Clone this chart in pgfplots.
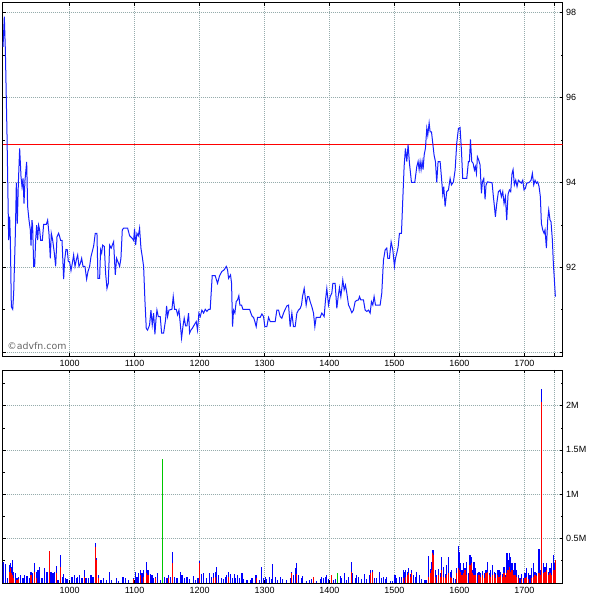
\documentclass[border=0pt]{standalone}
\usepackage{pgfplots}
\pgfplotsset{compat=1.18}
\usepackage{fontspec}
\setmainfont{Liberation Sans}
\newfontfamily\wmfont{DejaVu Sans}
\definecolor{gridc}{RGB}{150,172,172}
\definecolor{linec}{RGB}{20,30,255}
\definecolor{volblue}{RGB}{0,0,255}
\definecolor{volred}{RGB}{255,0,0}
\definecolor{volgreen}{RGB}{0,200,0}
\begin{document}
\begin{tikzpicture}
\useasboundingbox (0pt,0pt) rectangle (600pt,600pt);
\pgfplotsset{
  panel/.style={
    scale only axis, width=560pt, anchor=south west,
    xmin=897, xmax=1759,
    xtick={1000,1100,...,1700},
    extra x ticks={1746}, extra x tick labels={},
    extra x tick style={grid=major},
    grid=major,
    major grid style={color=gridc, dash pattern=on 1pt off 1pt, line width=0.6pt},
    yticklabel pos=right, ytick pos=both, xtick pos=both,
    tick style={black, line width=0.5pt},
    major tick length=3pt, minor tick length=2pt,
    axis line style={black, line width=0.8pt},
    ticklabel style={font=\fontsize{9}{10}\selectfont},
    /pgf/number format/assume math mode=true,
    /pgf/number format/1000 sep={},
  }
}
% ---------------- price panel ----------------
\begin{axis}[panel, at={(2.7pt,244pt)}, height=353.3pt,
  ymin=89.91, ymax=98.23,
  ytick={90,92,94,96,98}, yticklabels={,92,94,96,98},
  minor ytick={91,93,95,97},
  xticklabel style={yshift=-0.5pt}]
\addplot[volred, line width=0.9pt] coordinates {(897,94.89) (1759,94.89)};
\addplot[linec, line width=1pt] coordinates {
(897.5,97.19)(899.5,97.90)(901.1,97.11)(903.6,95.15)(905.2,93.58)(906.2,92.64)(907.7,93.19)(908.8,92.64)(910.3,91.07)(912.4,91.01)(913.9,91.39)(916.5,92.80)(918.0,93.99)(919.5,93.03)(921.1,93.98)(923.1,94.80)(925.2,94.13)(926.7,93.90)(928.3,94.09)(929.8,93.50)(931.3,94.05)(933.9,94.48)(935.4,93.43)(937.5,93.11)(939.5,92.88)(940.6,92.51)(942.1,93.11)(943.1,92.96)(944.7,92.02)(946.2,92.02)(947.7,92.64)(949.3,92.99)(950.8,92.64)(952.3,92.99)(953.9,92.88)(955.4,92.63)(958.0,92.63)(960.0,93.01)(964.1,93.01)(966.2,93.11)(968.2,92.80)(970.3,92.21)(971.8,92.80)(973.9,92.64)(976.5,92.33)(978.5,92.02)(980.6,92.72)(983.1,92.80)(984.7,92.72)(986.2,92.63)(988.3,92.63)(990.8,91.72)(992.4,92.17)(994.4,92.42)(996.5,92.41)(998.0,92.13)(1000.0,92.13)(1002.1,91.92)(1004.1,92.09)(1006.2,92.29)(1008.3,92.02)(1010.3,92.17)(1012.4,92.29)(1014.4,92.02)(1016.5,92.09)(1018.5,92.21)(1020.6,92.02)(1023.6,92.02)(1026.2,91.72)(1028.3,91.90)(1030.8,92.02)(1032.9,92.25)(1034.9,92.37)(1037.0,92.50)(1039.5,92.80)(1042.1,92.80)(1043.6,91.74)(1046.2,91.74)(1047.7,92.41)(1049.3,92.33)(1050.8,92.52)(1053.4,92.49)(1055.4,91.86)(1057.5,91.50)(1059.5,91.62)(1061.6,92.52)(1064.1,92.45)(1065.7,92.52)(1067.7,92.60)(1070.3,91.82)(1072.3,92.21)(1075.4,92.09)(1077.0,92.02)(1079.0,92.21)(1081.1,92.88)(1083.1,92.92)(1089.3,92.92)(1092.4,92.74)(1096.5,92.68)(1098.5,92.63)(1100.0,92.91)(1101.6,92.52)(1103.6,92.80)(1105.7,92.74)(1107.7,92.92)(1109.8,92.45)(1111.8,92.25)(1113.9,92.02)(1115.9,91.23)(1118.0,90.56)(1120.0,90.52)(1123.1,90.64)(1125.2,90.99)(1127.2,90.64)(1129.3,90.92)(1131.3,90.42)(1132.9,90.76)(1134.4,90.99)(1136.5,90.84)(1139.5,90.84)(1141.6,90.45)(1144.7,90.45)(1147.7,90.76)(1149.3,91.09)(1150.8,90.84)(1152.9,90.99)(1157.5,91.01)(1159.5,91.31)(1161.6,91.01)(1164.1,91.01)(1166.2,90.88)(1168.3,90.99)(1170.3,90.68)(1172.3,90.33)(1174.4,90.60)(1176.4,90.80)(1178.5,90.62)(1180.6,90.62)(1183.1,90.92)(1184.7,90.45)(1186.7,90.52)(1188.8,90.56)(1191.8,90.64)(1194.9,90.72)(1196.9,90.52)(1199.0,90.92)(1201.1,90.84)
(1203.6,90.99)(1206.2,90.92)(1208.8,91.01)(1211.3,90.96)(1213.9,91.01)(1216.4,91.01)(1219.5,91.80)(1224.1,91.80)(1227.7,91.62)(1230.8,91.80)(1234.4,91.90)(1238.0,91.94)(1241.1,92.02)(1243.1,91.94)(1244.7,91.74)(1246.2,91.78)(1247.7,91.82)(1249.3,91.62)(1250.8,90.60)(1252.3,90.99)(1254.4,90.92)(1256.4,91.19)(1258.5,91.23)(1260.5,91.33)(1262.1,91.11)(1264.6,91.11)(1266.7,91.01)(1277.0,91.01)(1279.0,90.92)(1281.1,90.84)(1283.1,90.82)(1285.2,90.72)(1287.2,90.60)(1289.3,90.82)(1293.4,90.82)(1296.0,90.90)(1298.5,90.84)(1300.5,90.60)(1303.6,90.60)(1306.2,90.82)(1308.8,90.72)(1316.4,90.72)(1319.0,90.99)(1321.6,90.99)(1324.1,90.84)(1326.7,90.80)(1329.3,90.92)(1331.8,91.01)(1334.4,91.09)(1337.0,91.11)(1339.5,90.60)(1342.1,90.92)(1344.6,90.60)(1347.2,90.60)(1349.8,90.92)(1352.3,90.99)(1354.9,91.03)(1356.9,91.11)(1358.5,91.31)(1361.1,91.50)(1364.1,91.11)(1366.2,91.31)(1368.2,91.31)(1370.3,91.19)(1372.9,91.07)(1375.4,90.92)(1377.5,90.60)(1379.5,90.82)(1385.7,90.82)(1388.2,90.92)(1391.8,90.84)(1393.9,91.23)(1395.9,91.50)(1398.5,91.11)(1401.1,91.31)(1403.6,91.39)(1405.2,91.62)(1408.7,91.62)(1411.3,91.03)(1413.4,91.31)(1415.4,91.52)(1417.5,91.31)(1419.0,91.50)(1420.5,91.70)(1422.6,91.47)(1424.6,91.58)(1426.7,91.39)(1429.3,91.11)(1431.8,91.03)(1434.4,90.93)(1436.9,90.99)(1439.5,91.19)(1442.1,91.22)(1444.6,91.23)(1446.2,91.31)(1448.2,91.23)(1452.3,91.23)(1454.9,90.99)(1457.5,90.96)(1460.0,90.99)(1462.6,90.92)(1464.6,91.19)(1466.7,91.11)(1468.7,91.31)(1470.8,91.11)(1478.0,91.11)(1480.5,91.39)(1483.1,92.17)(1485.7,92.41)(1488.2,92.45)(1489.8,92.21)(1492.3,92.21)(1494.9,92.60)(1497.5,92.41)(1500.0,92.02)(1501.6,92.21)(1503.6,92.33)
(1505.7,92.48)(1507.7,92.80)(1510.8,92.80)(1512.8,93.58)(1514.9,94.37)(1516.9,94.80)(1519.0,94.49)(1521.0,94.89)(1523.1,94.45)(1526.2,94.00)(1531.3,94.00)(1534.4,94.37)(1536.4,94.49)(1538.0,94.30)(1539.5,94.49)(1541.0,94.30)(1542.6,94.49)(1544.1,94.30)(1545.7,94.64)(1547.7,94.80)(1549.8,95.27)(1551.3,95.11)(1553.4,95.40)(1554.9,95.19)(1557.0,95.19)(1559.0,94.92)(1561.0,94.64)(1563.1,94.49)(1565.1,94.00)(1567.2,94.49)(1570.3,94.49)(1572.3,94.13)(1574.4,93.72)(1575.9,93.90)(1578.0,93.43)(1580.5,93.78)(1583.1,93.82)(1585.7,94.09)(1587.7,93.94)(1590.8,94.01)(1593.4,94.29)(1595.9,94.92)(1598.5,95.27)(1601.0,95.29)(1603.1,94.76)(1605.1,94.09)(1611.3,94.09)(1613.9,94.49)(1615.4,94.49)(1617.0,95.01)(1619.0,94.49)(1621.1,94.45)(1623.1,94.29)(1624.6,94.37)(1626.2,94.21)(1627.7,94.60)(1629.8,94.52)(1631.8,94.41)(1633.9,93.74)(1635.4,94.01)(1637.5,94.09)(1639.5,93.60)(1641.0,93.94)(1643.1,94.01)(1650.3,93.99)(1652.3,93.66)(1653.9,93.43)(1655.4,93.19)(1657.5,93.50)(1660.0,93.78)(1662.6,93.82)(1664.6,93.66)(1666.7,93.78)(1668.7,93.50)(1670.8,93.66)(1672.8,93.11)(1674.9,93.72)(1677.0,93.82)(1679.0,93.78)(1681.0,94.21)(1682.6,94.30)(1684.6,93.94)(1686.7,94.05)(1688.7,93.90)(1690.8,94.05)(1693.3,94.01)(1695.4,93.98)(1697.5,94.05)(1699.5,93.82)(1701.6,93.86)(1703.6,93.98)(1706.2,93.99)(1708.2,94.01)(1710.3,94.05)(1712.3,94.21)(1714.4,93.94)(1716.4,94.05)(1718.5,93.98)(1720.5,94.01)(1722.6,93.90)(1724.6,93.66)(1726.2,93.03)(1728.2,92.88)(1730.3,92.80)(1731.8,92.88)(1733.9,92.45)(1735.9,93.11)(1737.5,93.35)(1739.5,93.11)(1741.0,93.07)(1743.1,92.64)(1744.6,92.09)(1746.2,91.70)(1747.7,91.31)
};
\node[anchor=base west, font=\wmfont\fontsize{9.4}{10}\selectfont, text=black!60, inner sep=0pt] at (rel axis cs:0.008,0.017) {©advfn.com};
\end{axis}
% ---------------- volume panel ----------------
\begin{axis}[panel, at={(2.7pt,16.7pt)}, height=213.3pt,
  ymin=-0.008, ymax=2.403,
  ytick={0.5,1,1.5,2}, yticklabels={0.5M,1M,1.5M,2M},
  minor ytick={0.25,0.75,1.25,1.75,2.25}]
\addplot[ycomb, volblue, line width=1.2pt] coordinates {
(897.5,0.236)(901.1,0.210)(904.7,0.048)(907.2,0.199)(908.8,0.218)(910.3,0.180)(911.8,0.255)(913.9,0.124)(916.5,0.105)(919.0,0.048)(921.6,0.067)(924.1,0.086)(928.3,0.048)(930.8,0.086)(934.4,0.075)(938.0,0.048)(940.6,0.124)(943.1,0.105)(946.2,0.218)(948.8,0.124)(951.3,0.142)(953.9,0.180)(957.5,0.048)(961.6,0.161)(965.2,0.124)(969.3,0.357)(971.3,0.124)(974.4,0.105)(977.0,0.124)(979.5,0.188)(982.1,0.030)(986.2,0.312)(988.8,0.067)(990.8,0.093)(993.4,0.048)(996.0,0.037)(1003.6,0.067)(1007.2,0.086)(1010.3,0.048)(1012.4,0.067)(1015.4,0.086)(1019.0,0.048)(1022.6,0.142)(1025.2,0.048)(1029.3,0.048)(1032.9,0.086)(1035.9,0.060)(1040.0,0.451)(1041.6,0.274)(1044.7,0.086)(1048.2,0.030)(1052.3,0.056)(1056.5,0.030)(1061.1,0.116)(1064.1,0.030)(1071.8,0.048)(1075.4,0.022)(1082.1,0.067)(1085.7,0.048)(1090.8,0.030)(1098.5,0.048)(1101.1,0.124)(1103.6,0.067)(1106.2,0.105)(1108.8,0.142)(1111.3,0.105)(1113.9,0.142)(1118.0,0.236)(1120.6,0.142)(1124.1,0.093)(1126.7,0.086)(1129.3,0.048)(1131.8,0.067)(1135.4,0.105)(1139.5,0.030)(1146.2,0.067)(1149.8,0.048)(1152.3,0.086)(1154.9,0.067)(1158.5,0.349)(1161.1,0.060)(1165.2,0.048)(1170.3,0.124)(1172.9,0.086)(1176.5,0.048)(1180.6,0.067)(1184.7,0.037)(1190.8,0.075)(1193.4,0.030)(1197.5,0.048)(1200.0,0.244)(1202.6,0.097)(1206.2,0.105)(1211.3,0.048)(1214.9,0.105)(1218.0,0.060)(1221.6,0.105)(1224.1,0.124)(1226.2,0.172)(1229.3,0.086)(1233.4,0.048)(1237.0,0.037)(1239.5,0.067)(1242.1,0.086)(1244.6,0.124)(1247.7,0.097)(1250.8,0.048)(1253.4,0.097)(1255.9,0.048)(1259.0,0.086)(1261.6,0.048)(1265.2,0.105)(1267.7,0.037)(1272.9,0.030)(1278.0,0.030)(1280.6,0.048)(1285.7,0.086)(1288.2,0.086)(1291.8,0.030)(1295.9,0.180)(1299.0,0.048)(1301.1,0.067)(1303.6,0.037)(1307.2,0.067)(1310.3,0.037)(1312.3,0.210)(1316.4,0.060)(1320.5,0.030)(1324.1,0.060)(1328.2,0.037)(1334.4,0.030)(1339.5,0.048)(1342.1,0.124)(1344.6,0.086)(1347.2,0.161)(1349.8,0.218)(1352.3,0.086)(1356.4,0.048)(1359.0,0.075)(1365.1,0.022)(1368.7,0.030)(1372.8,0.037)(1375.4,0.060)(1379.5,0.022)(1385.7,0.037)(1388.2,0.060)(1390.8,0.048)(1393.4,0.060)(1395.9,0.086)(1398.5,0.037)(1402.6,0.086)(1406.2,0.030)(1409.8,0.037)(1416.4,0.075)(1419.0,0.048)(1423.1,0.105)(1426.2,0.030)(1429.3,0.060)(1433.4,0.229)(1435.9,0.105)(1439.5,0.048)(1442.1,0.086)(1444.6,0.067)(1449.8,0.037)(1453.9,0.097)(1457.5,0.037)(1461.1,0.086)(1463.6,0.142)(1466.2,0.142)(1469.3,0.048)(1472.8,0.048)(1476.9,0.124)(1480.0,0.048)(1483.1,0.067)(1485.7,0.037)(1488.2,0.067)(1494.4,0.018)(1497.5,0.018)(1501.0,0.086)(1503.6,0.048)(1507.2,0.067)(1511.3,0.060)(1513.9,0.142)(1515.4,0.124)(1517.5,0.142)(1519.5,0.124)(1521.6,0.161)(1524.1,0.097)(1526.7,0.142)(1529.2,0.086)(1531.8,0.067)(1534.4,0.124)(1538.5,0.086)(1542.1,0.037)(1545.7,0.030)(1548.7,0.030)(1552.3,0.300)(1554.9,0.150)(1556.9,0.236)(1558.5,0.368)(1560.0,0.368)(1562.6,0.142)(1565.2,0.086)(1567.7,0.150)(1570.3,0.112)(1572.8,0.293)(1575.4,0.180)(1578.0,0.097)(1580.5,0.199)(1583.1,0.285)(1585.7,0.124)(1588.2,0.142)(1590.8,0.048)(1593.4,0.037)(1595.9,0.161)(1598.5,0.413)(1600.0,0.349)(1602.1,0.218)(1604.1,0.142)(1606.2,0.225)(1608.7,0.161)(1611.3,0.236)(1613.9,0.105)(1616.4,0.312)(1618.0,0.293)(1620.0,0.142)(1622.6,0.236)(1625.2,0.161)(1627.7,0.105)(1630.3,0.124)(1632.8,0.105)(1635.4,0.135)(1638.0,0.112)(1641.0,0.142)(1643.6,0.236)(1646.2,0.105)(1648.2,0.142)(1650.8,0.199)(1653.4,0.124)(1655.9,0.105)(1658.5,0.142)(1661.0,0.142)(1663.6,0.124)(1666.2,0.097)(1668.7,0.180)(1671.3,0.086)(1673.4,0.330)(1674.9,0.255)(1676.9,0.330)(1679.0,0.285)(1681.0,0.218)(1683.1,0.142)(1685.7,0.218)(1688.2,0.142)(1690.8,0.086)(1693.4,0.048)(1695.9,0.097)(1698.5,0.048)(1701.0,0.105)(1703.6,0.161)(1706.2,0.105)(1708.7,0.086)(1711.3,0.161)(1713.9,0.218)(1716.4,0.124)(1719.0,0.105)(1722.6,0.376)(1725.2,0.142)(1726.7,2.19)(1729.3,0.218)(1731.8,0.180)(1734.4,0.225)(1737.0,0.124)(1739.5,0.161)(1742.1,0.218)(1744.6,0.312)(1746.2,0.218)(1747.7,0.255)
};
\addplot[ycomb, volred, line width=1.2pt] coordinates {
(907.2,0.124)(908.8,0.161)(910.3,0.105)(911.8,0.086)(913.9,0.048)(919.0,0.030)(921.6,0.037)(940.6,0.086)(946.2,0.124)(948.8,0.048)(969.3,0.357)(979.5,0.105)(986.2,0.180)(1022.6,0.067)(1040.0,0.398)(1041.6,0.255)(1044.7,0.048)(1098.5,0.037)(1108.8,0.086)(1113.9,0.067)(1118.0,0.105)(1120.6,0.086)(1131.8,0.048)(1152.3,0.048)(1158.5,0.218)(1200.0,0.218)(1221.6,0.048)(1224.1,0.067)(1244.6,0.060)(1288.2,0.048)(1342.1,0.105)(1349.8,0.097)(1375.4,0.060)(1402.6,0.086)(1433.4,0.124)(1463.6,0.105)(1466.2,0.124)(1513.9,0.048)(1517.5,0.067)(1519.5,0.086)(1521.6,0.105)(1524.1,0.060)(1526.7,0.105)(1552.3,0.067)(1554.9,0.112)(1556.9,0.142)(1558.5,0.330)(1560.0,0.312)(1562.6,0.067)(1567.7,0.086)(1570.3,0.060)(1572.8,0.142)(1575.4,0.067)(1578.0,0.048)(1580.5,0.086)(1583.1,0.105)(1585.7,0.067)(1588.2,0.048)(1595.9,0.105)(1598.5,0.161)(1600.0,0.142)(1602.1,0.124)(1604.1,0.086)(1606.2,0.105)(1608.7,0.142)(1611.3,0.086)(1616.4,0.199)(1618.0,0.218)(1620.0,0.105)(1622.6,0.086)(1625.2,0.086)(1630.3,0.086)(1632.8,0.067)(1635.4,0.086)(1638.0,0.048)(1641.0,0.105)(1643.6,0.124)(1646.2,0.086)(1648.2,0.067)(1650.8,0.086)(1653.4,0.097)(1655.9,0.048)(1658.5,0.086)(1661.0,0.067)(1663.6,0.086)(1666.2,0.060)(1668.7,0.105)(1671.3,0.067)(1673.4,0.105)(1674.9,0.142)(1676.9,0.180)(1679.0,0.124)(1681.0,0.142)(1683.1,0.086)(1685.7,0.086)(1688.2,0.067)(1690.8,0.048)(1695.9,0.037)(1701.0,0.048)(1703.6,0.067)(1706.2,0.037)(1711.3,0.048)(1713.9,0.067)(1716.4,0.086)(1719.0,0.075)(1722.6,0.105)(1725.2,0.086)(1726.7,2.04)(1729.3,0.105)(1731.8,0.124)(1734.4,0.142)(1737.0,0.086)(1739.5,0.105)(1742.1,0.086)(1744.6,0.142)(1746.2,0.142)(1747.7,0.250)
};
\addplot[ycomb, volgreen, line width=1.2pt] coordinates {(1143.1,1.395)(1412.8,0.112)};
\end{axis}
\end{tikzpicture}
\end{document}
